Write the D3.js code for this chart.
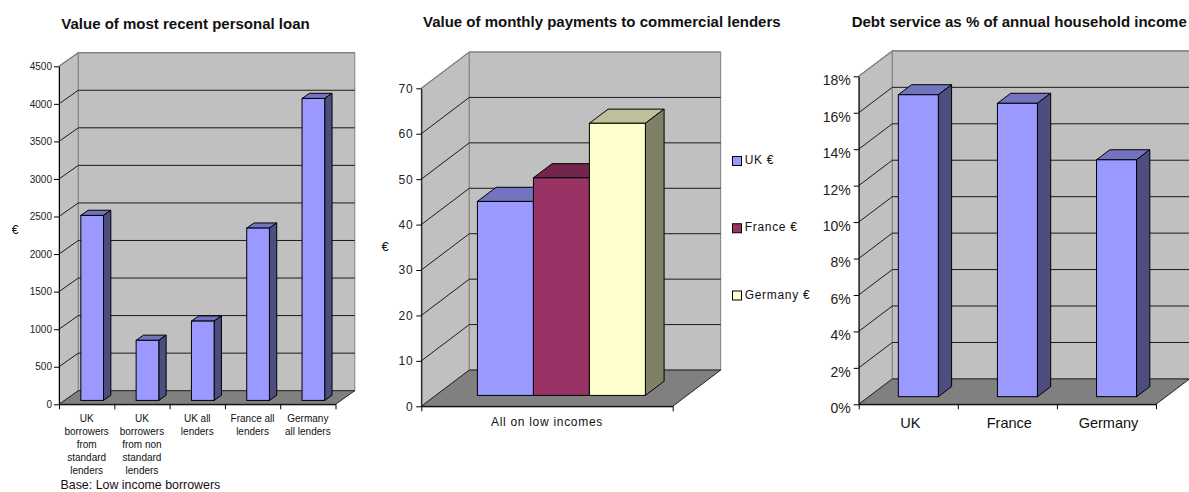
<!DOCTYPE html>
<html><head><meta charset="utf-8">
<script src="https://cdnjs.cloudflare.com/ajax/libs/d3/7.8.5/d3.min.js"></script>
<style>html,body{margin:0;padding:0;background:#fff;overflow:hidden}svg{display:block}text{font-family:"Liberation Sans",Arial,sans-serif;fill:#111}.tick text{fill:#222}</style>
</head><body><svg id="c" width="1189" height="492"></svg>
<script>
// Chart 1
const loanCategories = [["UK","borrowers","from","standard","lenders"],["UK","borrowers","from non","standard","lenders"],["UK all","lenders"],["France all","lenders"],["Germany","all lenders"]];
const loanValues = [2463, 800, 1056, 2294, 4020];
const loanTicks = [0,500,1000,1500,2000,2500,3000,3500,4000,4500];
// Chart 2
const paymentSeries = ["UK €","France €","Germany €"];
const paymentValues = [42.7, 47.9, 59.9];
const paymentColors = ["#9999FF","#993366","#FFFFCC"];
const paymentTicks = [0,10,20,30,40,50,60,70];
const paymentCategory = "All on low incomes";
// Chart 3
const debtCategories = ["UK","France","Germany"];
const debtValues = [16.57, 16.1, 13.0];
const debtTicks = [0,2,4,6,8,10,12,14,16,18];

const svg = d3.select("#c");
const shade = (c,k)=>{const r=d3.rgb(c);return d3.rgb(r.r*k,r.g*k,r.b*k).formatHex();};
const line = pts => "M"+pts.map(p=>p.join(",")).join("L")+"Z";

function frame(f, y, ticks, fs, ls, fmt, n){
  const g = svg.append("g");
  const {x0,x1,y0,dx,dy} = f;
  const top = y(ticks[ticks.length-1]);
  g.append("path").attr("d",line([[x0,y0],[x0+dx,y0-dy],[x0+dx,top-dy],[x0,top]])).attr("fill","#C0C0C0").attr("stroke","#808080");
  g.append("path").attr("d",line([[x0+dx,y0-dy],[x1+dx,y0-dy],[x1+dx,top-dy],[x0+dx,top-dy]])).attr("fill","#C0C0C0").attr("stroke","#808080");
  g.append("path").attr("d",line([[x0,y0],[x1,y0],[x1+dx,y0-dy],[x0+dx,y0-dy]])).attr("fill","#808080").attr("stroke","#222");
  g.selectAll(".gl").data(ticks.slice(1,-1)).join("path").attr("class","gl")
    .attr("d",t=>`M${x0},${y(t)}L${x0+dx},${y(t)-dy}L${x1+dx},${y(t)-dy}`)
    .attr("fill","none").attr("stroke","#1a1a1a").attr("stroke-width",1);
  g.append("path").attr("d",`M${x0},${top}L${x0+dx},${top-dy}L${x1+dx},${top-dy}`).attr("fill","none").attr("stroke","#808080").attr("stroke-width",1.2);
  const ax = g.append("g").attr("transform",`translate(${x0},0)`)
    .call(d3.axisLeft(y).tickValues(ticks).tickSize(5).tickPadding(f.tp).tickSizeOuter(0).tickFormat(fmt));
  ax.selectAll("text").attr("font-size",fs).attr("font-family","Liberation Sans").attr("dy",f.ldy).style("letter-spacing",ls+"px");
  ax.selectAll("line,path").attr("stroke","#000");
  const xl = d3.scaleLinear().domain([0,n]).range([x0,x1]);
  const bx = g.append("g").attr("transform",`translate(0,${y0})`)
    .call(d3.axisBottom(xl).tickValues(d3.range(n+1)).tickSize(5).tickSizeOuter(0).tickFormat(""));
  bx.selectAll("line,path").attr("stroke","#000");
  return g;
}
function bar(f, y, x, w, v, color){
  const g = svg.append("g");
  const ox=f.dx*f.off, oy=f.dy*f.off, bx=f.dx*f.depth, by=f.dy*f.depth;
  const l=x+ox, r=l+w, b=y(0)-oy, t=y(v)-oy;
  g.append("path").attr("d",line([[l,t],[r,t],[r+bx,t-by],[l+bx,t-by]])).attr("fill",shade(color,.75));
  g.append("path").attr("d",line([[r,b],[r+bx,b-by],[r+bx,t-by],[r,t]])).attr("fill",shade(color,.5));
  g.selectAll("path").attr("stroke","#000").attr("stroke-width",1).attr("stroke-linejoin","round");
  g.append("rect").attr("x",l).attr("y",t).attr("width",w).attr("height",b-t).attr("fill",color).attr("stroke","#000");
}
function title(s,x,y,fs){svg.append("text").attr("x",x).attr("y",y).attr("text-anchor","middle").attr("font-size",fs).attr("font-weight","bold").text(s);}

// Chart 1
{
  const f={x0:59,x1:335.5,y0:404.3,dx:19.3,dy:13.6,off:.286,depth:.38,tp:2,ldy:"0.32em"};
  const y=d3.scaleLinear().domain([0,4500]).range([f.y0,66.3]);
  const xb=d3.scaleBand().domain(d3.range(5)).range([f.x0,f.x1]).paddingInner(.59).paddingOuter(.295);
  frame(f,y,loanTicks,10,0,d3.format("d"),5);
  loanValues.forEach((v,i)=>bar(f,y,xb(i),xb.bandwidth(),v,"#9999FF"));
  loanCategories.forEach((ls,i)=>{
    svg.append("g").selectAll("text").data(ls).join("text")
      .attr("x",xb(i)+xb.bandwidth()/2).attr("y",(d,j)=>421.5+13*j)
      .attr("text-anchor","middle").attr("font-size",10).attr("fill","#222").text(d=>d);
  });
  title("Value of most recent personal loan",185.5,29,15);
  svg.append("text").attr("x",15).attr("y",234).attr("text-anchor","middle").attr("font-size",12).text("€");
  svg.append("text").attr("x",60.5).attr("y",489).attr("font-size",12.4).text("Base: Low income borrowers");
}
// Chart 2
{
  const f={x0:421.3,x1:672.7,y0:406.3,dx:48,dy:36.3,off:.3,depth:.39,tp:3,ldy:"0.32em"};
  const y=d3.scaleLinear().domain([0,70]).range([f.y0,88.3]);
  const xb=d3.scaleBand().domain(paymentSeries).range([f.x0,f.x1]).paddingInner(0).paddingOuter(.745);
  frame(f,y,paymentTicks,12,.7,d3.format("d"),1);
  paymentSeries.forEach((s,i)=>bar(f,y,xb(s),xb.bandwidth(),paymentValues[i],paymentColors[i]));
  svg.append("text").attr("x",547).attr("y",426).attr("text-anchor","middle").attr("font-size",12).style("letter-spacing",".7px").attr("fill","#222").text(paymentCategory);
  title("Value of monthly payments to commercial lenders",601.8,26.8,15);
  svg.append("text").attr("x",385).attr("y",251).attr("text-anchor","middle").attr("font-size",13).text("€");
  const ly=d3.scalePoint().domain(paymentSeries).range([161,295.5]);
  paymentSeries.forEach((s,i)=>{
    svg.append("rect").attr("x",732.5).attr("y",ly(s)-4.5).attr("width",9).attr("height",9).attr("fill",paymentColors[i]).attr("stroke","#000");
    svg.append("text").attr("x",744.7).attr("y",ly(s)+3).attr("font-size",12).style("letter-spacing",".7px").attr("fill","#222").text(s);
  });
}
// Chart 3
{
  const f={x0:858.7,x1:1156,y0:404.3,dx:33.6,dy:25.4,off:.3,depth:.395,tp:3,ldy:"0.6em"};
  const y=d3.scaleLinear().domain([0,18]).range([f.y0,76.3]);
  const xb=d3.scaleBand().domain(debtCategories).range([f.x0,f.x1]).paddingInner(.5964).paddingOuter(.2982);
  frame(f,y,debtTicks,14,0,d=>d+"%",3);
  debtCategories.forEach((s,i)=>bar(f,y,xb(s),xb.bandwidth(),debtValues[i],"#9999FF"));
  debtCategories.forEach(s=>svg.append("text").attr("x",xb(s)+xb.bandwidth()/2+2).attr("y",428).attr("text-anchor","middle").attr("font-size",14.5).attr("fill","#222").text(s));
  title("Debt service as % of annual household income",1019.2,26.8,15);
}
</script></body></html>
